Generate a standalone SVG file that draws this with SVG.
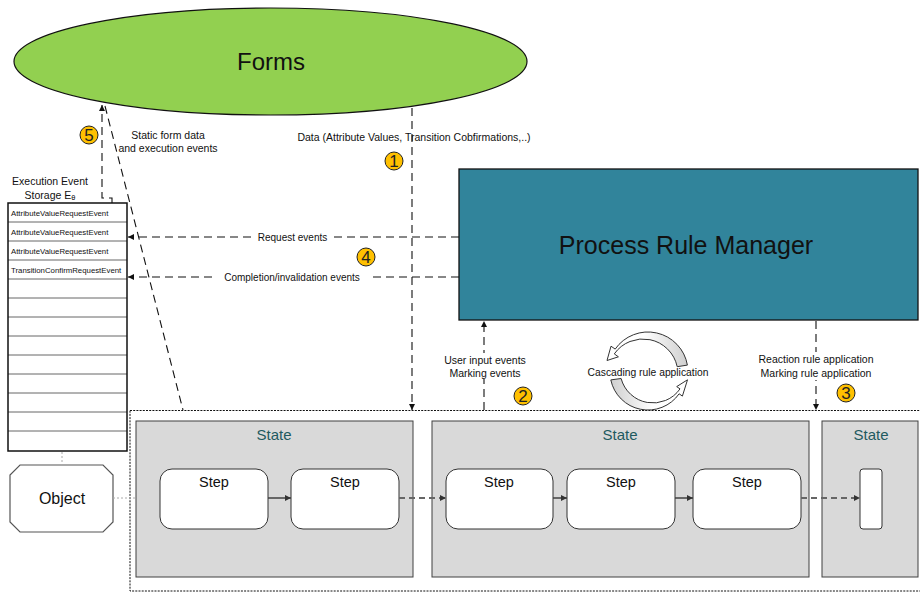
<svg xmlns="http://www.w3.org/2000/svg" width="920" height="592" viewBox="0 0 920 592">
<style>
text{font-family:"Liberation Sans",Arial,sans-serif;fill:#111}
.lbl{font-size:10.5px}
.row{font-size:7.8px}
.state{fill:#d9d9d9;stroke:#404040;stroke-width:1}
.stlbl{font-size:15px;fill:#1f5a60}
.step{fill:#fff;stroke:#333;stroke-width:1}
.steplbl{font-size:14.5px}
.dash{fill:none;stroke:#111;stroke-width:1.1;stroke-dasharray:8,5}
.sarrow{fill:none;stroke:#404040;stroke-width:1.5}
.darrow{fill:none;stroke:#666;stroke-width:1.8;stroke-dasharray:6,4}
.dotg{fill:none;stroke:#aaa;stroke-width:1;stroke-dasharray:2,2}
.badge{fill:#FFC000;stroke:#222;stroke-width:1}
.bnum{font-size:17px;fill:#222}
.rowline{stroke:#666;stroke-width:1}
</style>
<defs>
<marker id="ah" markerUnits="userSpaceOnUse" viewBox="0 0 6 6" refX="6" refY="3" markerWidth="6" markerHeight="6" orient="auto"><path d="M0,0 L6,3 L0,6 z" fill="#111"/></marker>
<marker id="ahg" markerUnits="userSpaceOnUse" viewBox="0 0 6 6" refX="6" refY="3" markerWidth="6" markerHeight="6" orient="auto"><path d="M0,0 L6,3 L0,6 z" fill="#333"/></marker>
<linearGradient id="gTop" x1="0" y1="0" x2="1" y2="0"><stop offset="0.45" stop-color="#fff"/><stop offset="1" stop-color="#cfcfcf"/></linearGradient>
<linearGradient id="gBot" x1="1" y1="0" x2="0" y2="0"><stop offset="0.45" stop-color="#fff"/><stop offset="1" stop-color="#cfcfcf"/></linearGradient>
</defs>
<rect width="920" height="592" fill="#fff"/>

<!-- boundary -->
<rect x="130" y="410.5" width="795" height="180.5" fill="none" stroke="#111" stroke-width="1" stroke-dasharray="2,1.2"/>

<g id="forms">
<ellipse cx="270.5" cy="61.5" rx="256.5" ry="53.5" fill="#92D050" stroke="#111" stroke-width="1.2"/>
<text x="271" y="61" font-size="24" text-anchor="middle" dominant-baseline="central">Forms</text>
</g>

<g id="prm">
<rect x="459" y="169" width="459" height="151" fill="#31849B" stroke="#111" stroke-width="1.3"/>
<text x="686" y="245" font-size="25" text-anchor="middle" dominant-baseline="central">Process Rule Manager</text>
</g>

<g id="storage">
<text class="lbl" x="50" y="181" text-anchor="middle" dominant-baseline="central">Execution Event</text>
<text class="lbl" x="50" y="194.5" text-anchor="middle" dominant-baseline="central">Storage E<tspan font-size="7.5" dy="2.5">θ</tspan></text>
<rect x="8" y="203" width="119" height="248" fill="#fff"/>
<g class="rowline">
<line x1="8" y1="222" x2="127" y2="222"/><line x1="8" y1="241" x2="127" y2="241"/><line x1="8" y1="260" x2="127" y2="260"/>
<line x1="8" y1="279" x2="127" y2="279"/><line x1="8" y1="298" x2="127" y2="298"/><line x1="8" y1="317" x2="127" y2="317"/>
<line x1="8" y1="336" x2="127" y2="336"/><line x1="8" y1="355" x2="127" y2="355"/><line x1="8" y1="374" x2="127" y2="374"/>
<line x1="8" y1="393" x2="127" y2="393"/><line x1="8" y1="412" x2="127" y2="412"/><line x1="8" y1="431" x2="127" y2="431"/>
</g>
<rect x="8" y="203" width="119" height="248" fill="none" stroke="#111" stroke-width="1.5"/>
<text class="row" x="11" y="213" dominant-baseline="central">AttributeValueRequestEvent</text>
<text class="row" x="11" y="232" dominant-baseline="central">AttributeValueRequestEvent</text>
<text class="row" x="11" y="251" dominant-baseline="central">AttributeValueRequestEvent</text>
<text class="row" x="11" y="270" dominant-baseline="central">TransitionConfirmRequestEvent</text>
</g>

<g id="object">
<polygon points="20,465 103,465 113,475 113,522 103,532 20,532 10,522 10,475" fill="#fff" stroke="#555" stroke-width="1.2"/>
<text x="62" y="498" font-size="16" text-anchor="middle" dominant-baseline="central">Object</text>
</g>

<g id="state1">
<rect class="state" x="136" y="421" width="277" height="156"/>
<text class="stlbl" x="274" y="434" text-anchor="middle" dominant-baseline="central">State</text>
</g>
<g id="state2">
<rect class="state" x="432" y="421" width="377" height="156"/>
<text class="stlbl" x="620" y="434" text-anchor="middle" dominant-baseline="central">State</text>
</g>
<g id="state3">
<rect class="state" x="822" y="421" width="96" height="156"/>
<text class="stlbl" x="871" y="434" text-anchor="middle" dominant-baseline="central">State</text>
</g>

<g id="step1"><rect class="step" x="160" y="469" width="108" height="60" rx="12"/><text class="steplbl" x="214" y="482" text-anchor="middle" dominant-baseline="central">Step</text></g>
<g id="step2"><rect class="step" x="291" y="469" width="108" height="60" rx="12"/><text class="steplbl" x="345" y="482" text-anchor="middle" dominant-baseline="central">Step</text></g>
<g id="step3"><rect class="step" x="446" y="469" width="107" height="60" rx="12"/><text class="steplbl" x="499" y="482" text-anchor="middle" dominant-baseline="central">Step</text></g>
<g id="step4"><rect class="step" x="567" y="469" width="108" height="60" rx="12"/><text class="steplbl" x="621" y="482" text-anchor="middle" dominant-baseline="central">Step</text></g>
<g id="step5"><rect class="step" x="693" y="469" width="108" height="60" rx="12"/><text class="steplbl" x="747" y="482" text-anchor="middle" dominant-baseline="central">Step</text></g>
<g id="step6"><rect class="step" x="860" y="469" width="22" height="60" rx="3"/></g>

<g id="cascade">
<path d="M687.4,365.1 A40,40 0 0 0 615.2,349.1 L611,346.2 L607,360.5 L618.4,356.8 L614.3,353.9 A35,35 0 0 1 677.2,366.7 Z" fill="url(#gTop)" stroke="#333" stroke-width="1"/>
<path d="M610.8,379.9 A38,38 0 0 0 679.1,393.8 L682.4,396.1 L687.5,379.8 L676.7,386.6 L680,388.9 A33,33 0 0 1 621.1,378.5 Z" fill="url(#gBot)" stroke="#333" stroke-width="1"/>
<text x="648" y="372" font-size="10.3" text-anchor="middle" dominant-baseline="central">Cascading rule application</text>
</g>

<g id="connectors">
<path class="dash" d="M112,203 V198 H102 V105" marker-end="url(#ah)"/>
<line class="dash" x1="105" y1="106" x2="183" y2="410"/>
<line class="dash" x1="412" y1="108" x2="412" y2="410" marker-end="url(#ah)"/>
<line class="dash" x1="459" y1="237" x2="128" y2="237" marker-end="url(#ah)"/>
<line class="dash" x1="459" y1="277" x2="128" y2="277" marker-end="url(#ah)"/>
<line class="dash" x1="484" y1="410" x2="484" y2="321" marker-end="url(#ah)"/>
<line class="dash" x1="816" y1="321" x2="816" y2="410" marker-end="url(#ah)"/>
<line class="sarrow" x1="268" y1="498" x2="291" y2="498" marker-end="url(#ahg)"/>
<line class="darrow" x1="399" y1="498" x2="446" y2="498" marker-end="url(#ahg)"/>
<line class="sarrow" x1="553" y1="498" x2="567" y2="498" marker-end="url(#ahg)"/>
<line class="sarrow" x1="675" y1="498" x2="693" y2="498" marker-end="url(#ahg)"/>
<line class="darrow" x1="801" y1="498" x2="860" y2="498" marker-end="url(#ahg)"/>
<line class="dotg" x1="113" y1="498" x2="136" y2="498"/>
<line class="dotg" x1="62" y1="452" x2="62" y2="465"/>
</g>

<g id="labels">
<text class="lbl" x="168" y="135" text-anchor="middle" dominant-baseline="central">Static form data</text>
<text class="lbl" x="168" y="148" text-anchor="middle" dominant-baseline="central">and execution events</text>
<text class="lbl" x="414" y="137" text-anchor="middle" dominant-baseline="central">Data (Attribute Values, Transition Cobfirmations,..)</text>
<rect x="255" y="230" width="75" height="14" fill="#fff"/>
<text x="292.5" y="237" font-size="10" text-anchor="middle" dominant-baseline="central">Request events</text>
<rect x="216" y="270" width="152" height="14" fill="#fff"/>
<text x="292" y="277" font-size="10" text-anchor="middle" dominant-baseline="central">Completion/invalidation events</text>
<rect x="440" y="353" width="90" height="26" fill="#fff"/>
<text class="lbl" x="485" y="360" text-anchor="middle" dominant-baseline="central">User input  events</text>
<text class="lbl" x="485" y="373" text-anchor="middle" dominant-baseline="central">Marking events</text>
<rect x="757" y="352" width="118" height="28" fill="#fff"/>
<text class="lbl" x="816" y="359" text-anchor="middle" dominant-baseline="central">Reaction rule application</text>
<text class="lbl" x="816" y="373" text-anchor="middle" dominant-baseline="central">Marking rule application</text>
</g>

<g id="badges">
<circle class="badge" cx="394" cy="161" r="9"/><text class="bnum" x="394" y="161.5" text-anchor="middle" dominant-baseline="central">1</text>
<circle class="badge" cx="523" cy="396" r="9"/><text class="bnum" x="523" y="396.5" text-anchor="middle" dominant-baseline="central">2</text>
<circle class="badge" cx="846" cy="393" r="9"/><text class="bnum" x="846" y="393.5" text-anchor="middle" dominant-baseline="central">3</text>
<circle class="badge" cx="366" cy="257" r="9"/><text class="bnum" x="366" y="257.5" text-anchor="middle" dominant-baseline="central">4</text>
<circle class="badge" cx="89" cy="135" r="9"/><text class="bnum" x="89" y="135.5" text-anchor="middle" dominant-baseline="central">5</text>
</g>
</svg>
